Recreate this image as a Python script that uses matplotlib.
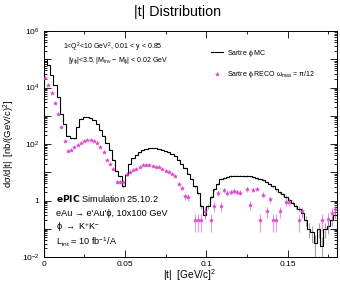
import numpy as np
import matplotlib
matplotlib.use('Agg')
import matplotlib.pyplot as plt
from matplotlib.ticker import MultipleLocator, LogLocator, FuncFormatter, NullFormatter

plt.rcParams['font.family'] = ['Liberation Sans', 'DejaVu Sans']
plt.rcParams['mathtext.fontset'] = 'custom'
plt.rcParams['mathtext.rm'] = 'Liberation Sans'
plt.rcParams['mathtext.it'] = 'Liberation Sans'

# |t| binning: 90 bins of 0.002 (GeV/c)^2
t_edges = np.linspace(0.0, 0.18, 91)

# log10 of dsigma/d|t|, one value per bin
mc_log = [5.0, 4.8, 4.45, 4.1, 3.65, 3.05, 2.7, 2.3, 2.2, 2.2,
          2.6, 2.9, 2.95, 2.95, 2.93, 2.85, 2.7, 2.5, 2.3, 2.05,
          1.8, 1.45, 1.05, 0.85, 0.5, 0.9, 1.3, 1.5, 1.62, 1.7,
          1.77, 1.82, 1.85, 1.86, 1.85, 1.83, 1.8, 1.75, 1.7, 1.65,
          1.58, 1.45, 1.3, 1.15, 0.95, 0.75, 0.5, 0.25, -0.2, -0.5,
          -0.2, 0.13, 0.4, 0.6, 0.75, 0.8, 0.84, 0.86, 0.88, 0.88,
          0.88, 0.87, 0.86, 0.85, 0.83, 0.8, 0.76, 0.72, 0.65, 0.58,
          0.5, 0.4, 0.3, 0.22, 0.12, 0.02, -0.08, -0.2, -0.3, -0.45,
          -0.7, -1.0, -1.1, -1.5, -1.0, -1.6, -1.0, -0.9, -0.7, -0.5]

nan = np.nan
reco_log = [4.35, 4.1, 3.8, 3.45, 3.05, 2.6, 2.1, 1.75, 1.8, 1.88,
            1.96, 2.05, 2.1, 2.14, 2.15, 2.12, 2.05, 1.9, 1.7, 1.45,
            1.3, 1.1, 0.65, 0.65, 0.65, 0.93, 1.0, 1.07, 1.12, 1.18,
            1.25, 1.27, 1.24, 1.22, 1.2, 1.18, 1.13, 1.05, 1.02, 0.95,
            0.85, 0.6, 0.45, 0.15, 0.12, nan, -0.68, -0.68, -0.68, -0.38,
            nan, -0.68, -0.2, 0.25, -0.2, 0.37, 0.25, 0.3, 0.32, 0.3,
            0.28, nan, 0.4, -0.15, 0.38, 0.42, -0.68, 0.2, -0.38, 0.05,
            -0.68, -0.68, -0.38, nan, -0.05, -0.05, nan, nan, -0.68, -0.38,
            nan, nan, nan, nan, nan, -0.68, nan, -0.65, -0.45, -0.3]

# per-event weights used for the Poisson uncertainties
reco_weight = 0.08
mc_weight = 0.03

MAGENTA = '#dd44cc'


def W(px):
    return px / 340.0


def H(py):
    return 1.0 - py / 282.0


def main():
    mc = 10.0 ** np.array(mc_log)
    reco = 10.0 ** np.array(reco_log)
    centers = 0.5 * (t_edges[1:] + t_edges[:-1])
    half = 0.5 * np.diff(t_edges)

    fig = plt.figure(figsize=(3.4, 2.82), dpi=100)
    ax = fig.add_axes([W(43.5), H(257), W(293), (257 - 31) / 282.0])

    # MC: step histogram plus faint statistical error bars
    mc_err = np.sqrt(mc * mc_weight)
    ax.errorbar(centers, mc, yerr=mc_err, fmt='none', ecolor='0.55',
                elinewidth=0.8, alpha=0.8, zorder=1)
    ax.stairs(mc, t_edges, color='black', lw=0.8, zorder=2,
              label=r'Sartre $\phi$ MC')

    # RECO points
    ok = np.isfinite(reco)
    reco_err = np.sqrt(reco[ok] * reco_weight)
    ax.errorbar(centers[ok], reco[ok], yerr=reco_err, xerr=half[ok] * 0.6,
                fmt='none', ecolor=MAGENTA, elinewidth=0.8, alpha=0.55,
                zorder=3)
    ax.plot(centers[ok], reco[ok], ls='none', marker='*', ms=3.0,
            color=MAGENTA, mec=MAGENTA, mew=0.3, zorder=4,
            label=r'Sartre $\phi$ RECO $\omega_{max}$ = $\pi$/12')

    ax.set_yscale('log')
    ax.set_xlim(0, 0.18)
    ax.set_ylim(1e-2, 1e6)

    ax.xaxis.set_major_locator(MultipleLocator(0.05))
    ax.xaxis.set_minor_locator(MultipleLocator(0.025))
    ax.xaxis.set_major_formatter(FuncFormatter(
        lambda v, p: '0' if abs(v) < 1e-9 else ('%g' % v)))
    ax.yaxis.set_major_locator(LogLocator(base=10, numticks=20))
    ax.yaxis.set_minor_locator(LogLocator(base=10, subs=np.arange(2, 10),
                                          numticks=50))
    ax.yaxis.set_minor_formatter(NullFormatter())

    def ylab(v, p):
        e = int(round(np.log10(v)))
        if e % 2:
            return ''
        if e == 0:
            return '1'
        return r'$10^{%d}$' % e
    ax.yaxis.set_major_formatter(FuncFormatter(ylab))

    ax.tick_params(which='both', direction='in', top=True, right=True,
                   labelsize=6, width=0.6, pad=3)
    ax.tick_params(which='major', length=5)
    ax.tick_params(which='minor', length=2.5)
    for s in ax.spines.values():
        s.set_linewidth(0.7)

    ax.set_xlabel(r'|t|  [GeV/c]$^2$', fontsize=7.3)
    ax.xaxis.set_label_coords(0.5, -0.045, transform=ax.transAxes)
    ax.xaxis.label.set_va('top')
    ax.set_ylabel(r'd$\sigma$/d|t|  [nb/(GeV/c)$^2$]', fontsize=6.8)
    ax.yaxis.set_label_coords(-0.09, 0.5)

    fig.text(W(178), H(12), '|t| Distribution', fontsize=10.3,
             ha='center', va='center')

    fig.text(W(63), H(47), r'1<Q$^2$<10 GeV$^2$, 0.01 < y < 0.85',
             fontsize=5, va='center')
    fig.text(W(68), H(61), r'|y$_{\phi}$|<3.5, |M$_{inv}$ $-$ M$_{\phi}$| < 0.02 GeV',
             fontsize=5, va='center')

    fig.text(W(56), H(199), r'$\bf{ePIC}$ Simulation 25.10.2',
             fontsize=6.6, va='center')
    fig.text(W(56), H(213), "eAu \u2192 e'Au'\u03d5, 10x100 GeV",
             fontsize=6.6, va='center')
    fig.text(W(56), H(227), r'$\phi$ $\rightarrow$ K$^{+}$K$^{-}$',
             fontsize=6.6, va='center')
    fig.text(W(56), H(242), r'L$_{int}$ = 10 fb$^{-1}$/A',
             fontsize=6.6, va='center')

    ax.legend(loc='upper left', bbox_to_anchor=(W(208 - 43.5) / W(293), 1 - (45 - 31) / 226.0),
              frameon=False, fontsize=5, handlelength=1.8, handletextpad=0.6,
              labelspacing=1.5, borderaxespad=0)

    fig.savefig('out.png', dpi=100)


if __name__ == '__main__':
    main()
